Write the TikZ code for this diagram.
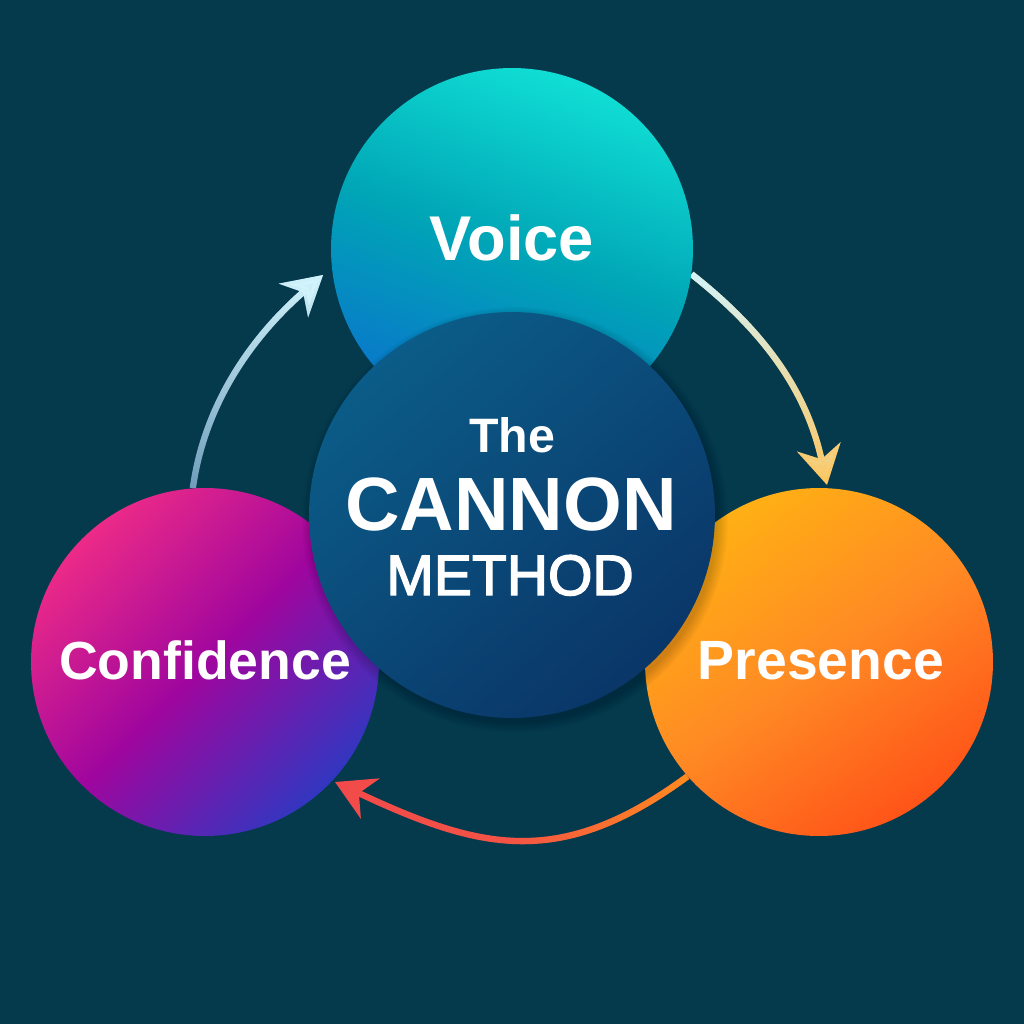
\documentclass[tikz,border=0pt]{standalone}
\usepackage{fontspec}
\setmainfont{Liberation Sans}
\newfontfamily\medfont{Liberation Sans}[FakeBold=2.5]
\usetikzlibrary{arrows.meta,fadings,calc}
\definecolor{bg}{HTML}{053A4D}
\definecolor{voiceT}{HTML}{10DED4}
\definecolor{voiceM}{HTML}{00A5B6}
\definecolor{voiceB}{HTML}{0A74CC}
\definecolor{cenT}{HTML}{0B5C88}
\definecolor{cenB}{HTML}{0A3668}
\definecolor{confT}{HTML}{EC2A88}
\definecolor{confM}{HTML}{A0069E}
\definecolor{confB}{HTML}{3236C0}
\definecolor{presT}{HTML}{FFB014}
\definecolor{presM}{HTML}{FF8A24}
\definecolor{presB}{HTML}{FF5418}
\definecolor{arrA}{HTML}{6E9CBA}
\definecolor{arrC}{HTML}{D2F4FC}
\definecolor{arrY}{HTML}{FFC55A}
\definecolor{arrR}{HTML}{F24A4C}
\definecolor{arrO}{HTML}{FF8C1E}
\pgfdeclarelayer{back}
\pgfdeclarelayer{conn}
\pgfsetlayers{back,conn,main}
\tikzfading[name=faderight, left color=transparent!100, right color=transparent!0, middle color=transparent!85]
\tikzset{
  ball/.style={circle, inner sep=0pt, draw=none},
  lbl/.style={text=white, inner sep=0pt, anchor=base},
  conn/.style={line width=3.6pt, -{Stealth[length=22pt, width=25pt, inset=7pt]}},
}
\begin{document}
\begin{tikzpicture}[x=0.02cm, y=-0.02cm]
\begin{pgfonlayer}{back}
\fill[bg] (0,0) rectangle (1024,1024);
\end{pgfonlayer}
\useasboundingbox (0,0) rectangle (1024,1024);

% outer circles
\node[ball, minimum size=7.24cm, top color=voiceT, bottom color=voiceB, middle color=voiceM, shading angle=-20] (voice) at (512,249) {};
\node[ball, minimum size=6.96cm, top color=confT, bottom color=confB, middle color=confM, shading angle=45] (conf) at (205,662) {};
\node[ball, minimum size=6.96cm, top color=presT, bottom color=presB, middle color=presM, shading angle=35] (pres) at (819,662) {};

% shadow of central circle
\foreach \i in {1,...,8}
  \fill[black, opacity=0.025] (515,520) circle[radius=201+\i*1.5];

% central circle
\node[ball, minimum size=8.12cm, top color=cenT, bottom color=cenB, shading angle=40] (cen) at (512,515) {};

% labels
\node[lbl, font=\fontsize{36}{40}\selectfont\bfseries] (voicelbl) at (512,260) {Voice};
\node[lbl, font=\fontsize{30.5}{34}\selectfont\bfseries] (conflbl) at (205,679) {Confidence};
\node[lbl, font=\fontsize{31.5}{34}\selectfont\bfseries] (preslbl) at (821,679) {Presence};
\node[lbl, font=\fontsize{27.5}{30}\selectfont\bfseries] (the) at (512,452) {The};
\node[lbl, font=\fontsize{43}{46}\selectfont\bfseries] (cannon) at (511,530) {CANNON};
\node[lbl, font=\fontsize{32.5}{36}\selectfont\medfont] (method) at (510,595) {METHOD};

% arrow end points
\coordinate (a1e) at (323,275);
\coordinate (a2e) at (827,485);
\coordinate (a3e) at (335,782);

\begin{pgfonlayer}{conn}
\draw[conn, arrA] (conf.94) .. controls (205,400) and (256,333) .. (a1e);
\draw[conn, arrC, path fading=south] (conf.94) .. controls (205,400) and (256,333) .. (a1e);

\draw[conn, arrY] (voice.-8) .. controls (765,332) and (807,392) .. (a2e);
\draw[conn, arrC, path fading=south] (voice.-8) .. controls (765,332) and (807,392) .. (a2e);

\draw[conn, arrR] (pres.221) .. controls (560,870) and (480,850) .. (a3e);
\draw[conn, arrO, path fading=faderight] (pres.221) .. controls (560,870) and (480,850) .. (a3e);
\end{pgfonlayer}
\end{tikzpicture}
\end{document}
